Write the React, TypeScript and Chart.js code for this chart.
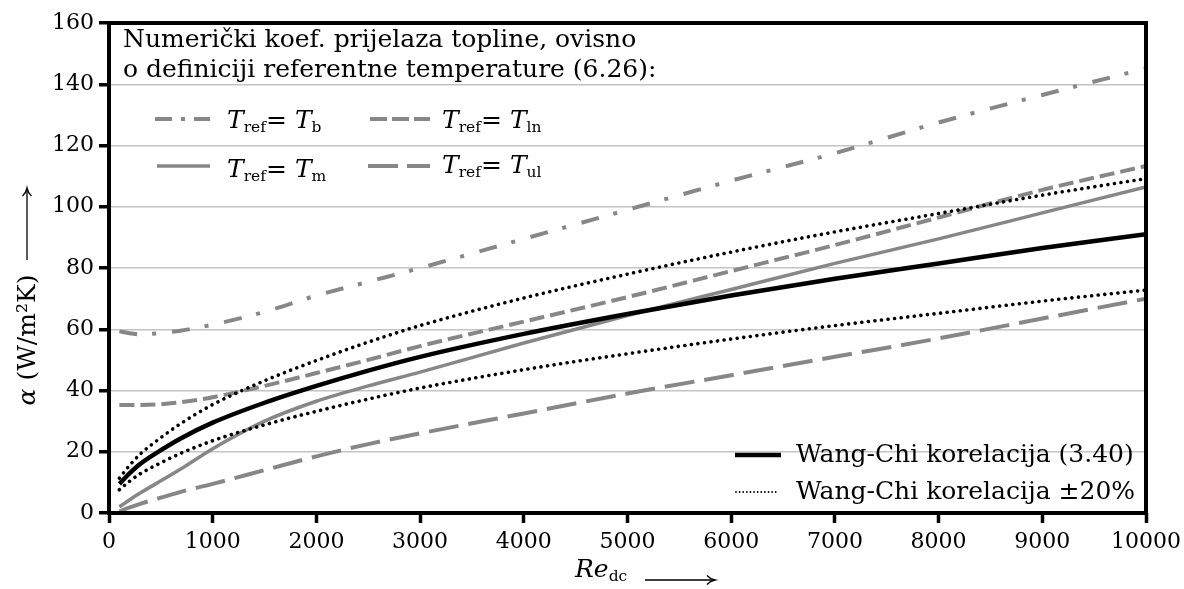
import React, { useEffect, useRef } from 'react';
import { Chart, registerables } from 'chart.js';

Chart.register(...registerables);

// Reynolds numbers (x values)
const reynolds = [100, 200, 300, 500, 700, 1000, 1500, 2000, 2500, 3000, 4000, 5000, 6000, 7000, 8000, 9000, 10000];
// T_ref = T_b
const tBulk = [59.3, 58.7, 58.3, 58.8, 59.6, 61.5, 65.7, 71, 75.5, 80, 89.5, 99, 108.5, 117.5, 127.5, 136.5, 145.2];
// T_ref = T_ln
const tLn = [35.3, 35.3, 35.3, 35.5, 36.2, 37.8, 41.5, 45.7, 50, 54.5, 62.5, 70.5, 79, 87.5, 96.5, 105.5, 113.3];
// T_ref = T_m
const tMean = [2, 4.3, 6.5, 10.5, 14.5, 21, 30, 36.5, 41.5, 46, 55.5, 64.5, 73, 81.5, 89.5, 98, 106.5];
// T_ref = T_ul
const tUl = [0.5, 1.8, 3, 5, 7, 9.5, 14, 18.5, 22.5, 26, 32.5, 39, 45, 51, 57, 63.5, 70];
// Wang-Chi correlation (3.40)
const wangChi = [9.5, 13, 16, 20.5, 24.5, 29.5, 36, 41.5, 46.5, 51, 58.5, 65, 71, 76.5, 81.5, 86.5, 91];
// Wang-Chi +20 %
const wangChiUpper = [11.4, 15.6, 19.2, 24.6, 29.4, 35.4, 43.2, 49.8, 55.8, 61.2, 70.2, 78, 85.2, 91.8, 97.8, 103.8, 109.2];
// Wang-Chi -20 %
const wangChiLower = [7.6, 10.4, 12.8, 16.4, 19.6, 23.6, 28.8, 33.2, 37.2, 40.8, 46.8, 52, 56.8, 61.2, 65.2, 69.2, 72.8];

const xTicks = [0, 1000, 2000, 3000, 4000, 5000, 6000, 7000, 8000, 9000, 10000];
const yTicks = [0, 20, 40, 60, 80, 100, 120, 140, 160];

const GRAY = '#878787';
const FONT = '"DejaVu Serif", serif';

const DASH_B = [18, 15, 4, 16];
const DASH_LN = [15, 6];
const DASH_UL = [30, 10];
const DASH_DOT = [0.01, 6.6];

const toPoints = (ys: number[]) => reynolds.map((x, i) => ({ x, y: ys[i] }));

const decorPlugin = {
  id: 'decor',
  afterDraw(chart: any) {
    const { ctx, chartArea: a } = chart;
    ctx.save();
    // frame
    ctx.strokeStyle = '#000';
    ctx.lineWidth = 4;
    ctx.setLineDash([]);
    ctx.strokeRect(a.left, a.top, a.right - a.left, a.bottom - a.top);

    const seg = (x1: number, x2: number, y: number, color: string, w: number, dash: number[], cap: CanvasLineCap) => {
      ctx.beginPath();
      ctx.strokeStyle = color;
      ctx.lineWidth = w;
      ctx.lineCap = cap;
      ctx.setLineDash(dash);
      ctx.moveTo(x1, y);
      ctx.lineTo(x2, y);
      ctx.stroke();
    };
    // top-left legend samples
    seg(155, 210, 119, GRAY, 4, [17, 9, 4, 9], 'butt');
    seg(370, 430, 119, GRAY, 4, [17, 5], 'butt');
    seg(157, 210, 166, GRAY, 3.5, [], 'butt');
    seg(368, 430, 166, GRAY, 4, [30, 9], 'butt');
    // bottom-right legend samples
    seg(735, 781, 455, '#000', 4.5, [], 'butt');
    seg(736, 779, 492, '#000', 1.8, [0.01, 3.6], 'round');

    // axis arrows
    ctx.setLineDash([]);
    ctx.strokeStyle = '#000';
    ctx.fillStyle = '#000';
    ctx.lineWidth = 1.3;
    ctx.lineCap = 'butt';
    // x arrow
    ctx.beginPath();
    ctx.moveTo(645, 580);
    ctx.lineTo(714, 580);
    ctx.stroke();
    ctx.beginPath();
    ctx.moveTo(707, 575.5);
    ctx.quadraticCurveTo(710, 579, 715, 580);
    ctx.quadraticCurveTo(710, 581, 707, 584.5);
    ctx.stroke();
    // y arrow
    ctx.beginPath();
    ctx.moveTo(27, 260);
    ctx.lineTo(27, 189);
    ctx.stroke();
    ctx.beginPath();
    ctx.moveTo(22.5, 196);
    ctx.quadraticCurveTo(26, 193, 27, 188);
    ctx.quadraticCurveTo(28, 193, 31.5, 196);
    ctx.stroke();
    ctx.restore();
  },
};

const sub = (t: string) => (
  <span style={{ fontSize: '0.62em', verticalAlign: '-0.28em', fontStyle: 'normal' }}>{t}</span>
);
const T = () => <span style={{ fontStyle: 'italic' }}>T</span>;

const textStyle = (left: number, baseline: number, size: number): React.CSSProperties => ({
  position: 'absolute',
  left,
  top: baseline - Math.round(size * 0.846),
  fontFamily: FONT,
  fontSize: size,
  lineHeight: `${size}px`,
  whiteSpace: 'nowrap',
  color: '#000',
});

export default function App() {
  const canvasRef = useRef<HTMLCanvasElement | null>(null);

  useEffect(() => {
    const canvas = canvasRef.current;
    if (!canvas) return;
    const common = { pointRadius: 0, fill: false, cubicInterpolationMode: 'monotone' as const };
    const chart = new Chart(canvas, {
      type: 'line',
      data: {
        datasets: [
          { ...common, label: 'Wang-Chi korelacija (3.40)', data: toPoints(wangChi), borderColor: '#000', borderWidth: 4.5, order: 0 },
          { ...common, label: 'Wang-Chi +20%', data: toPoints(wangChiUpper), borderColor: '#000', borderWidth: 3.6, borderDash: DASH_DOT, borderCapStyle: 'round', order: 1 },
          { ...common, label: 'Wang-Chi -20%', data: toPoints(wangChiLower), borderColor: '#000', borderWidth: 3.6, borderDash: DASH_DOT, borderCapStyle: 'round', order: 2 },
          { ...common, label: 'T_ref = T_b', data: toPoints(tBulk), borderColor: GRAY, borderWidth: 4, borderDash: DASH_B, order: 3 },
          { ...common, label: 'T_ref = T_ln', data: toPoints(tLn), borderColor: GRAY, borderWidth: 4, borderDash: DASH_LN, order: 4 },
          { ...common, label: 'T_ref = T_m', data: toPoints(tMean), borderColor: GRAY, borderWidth: 3.5, order: 5 },
          { ...common, label: 'T_ref = T_ul', data: toPoints(tUl), borderColor: GRAY, borderWidth: 4, borderDash: DASH_UL, order: 6 },
        ],
      },
      options: {
        animation: false,
        responsive: false,
        events: [],
        layout: { padding: { top: 23, right: 38, left: 0, bottom: 0 } },
        plugins: { legend: { display: false }, tooltip: { enabled: false }, title: { display: false } },
        scales: {
          x: {
            type: 'linear',
            min: 0,
            max: 10000,
            afterFit: (s: any) => { s.height = 76; s.paddingRight = 0; s.paddingLeft = 0; },
            afterBuildTicks: (s: any) => { s.ticks = xTicks.map((v) => ({ value: v })); },
            ticks: { color: '#000', font: { family: FONT, size: 22 }, padding: 6, maxRotation: 0, autoSkip: false, callback: (v: any) => String(v) },
            grid: { display: true, drawOnChartArea: false, drawTicks: true, tickLength: 10, tickWidth: 3.5, tickColor: '#000', color: '#000' },
            border: { display: false },
          },
          y: {
            type: 'linear',
            min: 0,
            max: 160,
            afterFit: (s: any) => { s.width = 109; },
            afterBuildTicks: (s: any) => { s.ticks = yTicks.map((v) => ({ value: v })); },
            ticks: { color: '#000', font: { family: FONT, size: 22 }, padding: 5, autoSkip: false, callback: (v: any) => String(v) },
            grid: { display: true, drawOnChartArea: true, drawTicks: true, tickLength: 10, tickWidth: 3.5, tickColor: '#000', color: '#c4c4c4', lineWidth: 1.5 },
            border: { display: false },
          },
        },
      },
      plugins: [decorPlugin],
    });
    return () => chart.destroy();
  }, []);

  return (
    <div style={{ position: 'fixed', left: 0, top: 0, width: 1184, height: 589, background: '#fff', overflow: 'hidden' }}>
      <canvas ref={canvasRef} width={1184} height={589} style={{ position: 'absolute', left: 0, top: 0, width: 1184, height: 589 }} />
      <div style={textStyle(123, 47, 25)}>Numerički koef. prijelaza topline, ovisno</div>
      <div style={textStyle(123, 77, 25)}>o definiciji referentne temperature (6.26):</div>
      <div style={textStyle(227, 128, 25)}><T />{sub('ref')}= <T />{sub('b')}</div>
      <div style={textStyle(442, 128, 25)}><T />{sub('ref')}= <T />{sub('ln')}</div>
      <div style={textStyle(227, 177, 25)}><T />{sub('ref')}= <T />{sub('m')}</div>
      <div style={textStyle(442, 173, 25)}><T />{sub('ref')}= <T />{sub('ul')}</div>
      <div style={textStyle(796, 462, 25)}>Wang-Chi korelacija (3.40)</div>
      <div style={textStyle(796, 499, 25)}>Wang-Chi korelacija ±20%</div>
      <div style={textStyle(575, 577, 25)}><span style={{ fontStyle: 'italic' }}>Re</span>{sub('dc')}</div>
      <div
        style={{
          position: 'absolute',
          left: 27 - 70,
          top: 340 - 12,
          width: 140,
          height: 24,
          transform: 'rotate(-90deg)',
          transformOrigin: '70px 12px',
          fontFamily: FONT,
          fontSize: 25,
          lineHeight: '24px',
          whiteSpace: 'nowrap',
          textAlign: 'center',
          color: '#000',
        }}
      >
        <span style={{ fontStyle: 'italic' }}>α</span> (W/m²K)
      </div>
    </div>
  );
}
